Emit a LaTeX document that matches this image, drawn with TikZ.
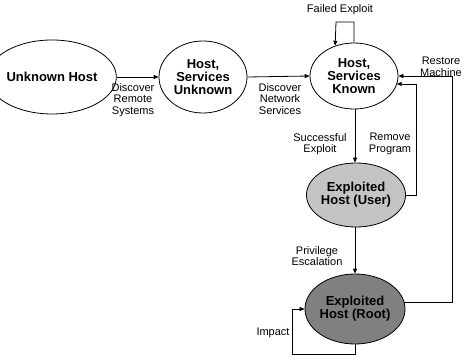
\documentclass[tikz,border=0pt]{standalone}
\usepackage{fontspec}
\setmainfont{Liberation Sans}
\usetikzlibrary{shapes.geometric,arrows.meta}
\definecolor{lightfill}{HTML}{C4C4C4}
\definecolor{darkfill}{HTML}{808080}
\begin{document}
\begin{tikzpicture}[x=1pt,y=-1pt,
  state/.style={ellipse,draw=black,line width=0.8pt,inner sep=0pt,align=center,
    font=\fontsize{13}{13}\selectfont\bfseries},
  lbl/.style={align=center,font=\fontsize{11}{11.5}\selectfont,inner sep=0pt},
  arr/.style={draw=black,line width=0.8pt,-{Triangle[length=5pt,width=4pt]}},
  ln/.style={draw=black,line width=0.8pt}]
\useasboundingbox (0,0) rectangle (462,358);
\node[state,minimum width=100pt,minimum height=74pt] (n1) at (52,77) {Unknown Host};
\node[state,minimum width=88pt,minimum height=72pt] (n2) at (203,77) {Host,\\Services\\Unknown};
\node[state,minimum width=88pt,minimum height=66pt] (n3) at (354,76) {Host,\\Services\\Known};
\node[state,fill=lightfill,minimum width=94pt,minimum height=64pt] (n4) at (356,195) {Exploited\\Host (User)};
\node[state,fill=darkfill,minimum width=94pt,minimum height=70pt] (n5) at (355,309) {Exploited\\Host (Root)};

\draw[arr] (n1.east) -- (n2.west);
\draw[arr] (n2.east) -- (n3.west);
\draw[arr] (n3.south -| n5.center) -- (n4.north -| n5.center);
\draw[arr] (n4.south -| n5.center) -- (n5.north);

\coordinate (fe) at (336,22);
\draw[arr] (n3.north) |- (fe) -- (n3.122);

\coordinate (rp) at (416,84);
\draw[arr] (n4.east) -| (rp) -- (rp -| n3.-12);

\coordinate (rm) at (452,76);
\draw[arr] (n5.8) -| (rm) -- (n3.east);

\coordinate (im) at (292,354);
\draw[arr] (n5.south) |- (im) |- (n5.west);

\node[lbl] (l1) at (133,100) {Discover\\Remote\\Systems};
\node[lbl] (l2) at (280,99) {Discover\\Network\\Services};
\node[lbl] (l3) at (340,10) {Failed Exploit};
\node[lbl] (l4) at (320,144) {Successful\\Exploit};
\node[lbl] (l5) at (390,144) {Remove\\Program};
\node[lbl] (l6) at (441,67) {Restore\\Machine};
\node[lbl] (l7) at (317,256) {Privilege\\Escalation};
\node[lbl] (l8) at (273,333) {Impact};
\end{tikzpicture}
\end{document}
